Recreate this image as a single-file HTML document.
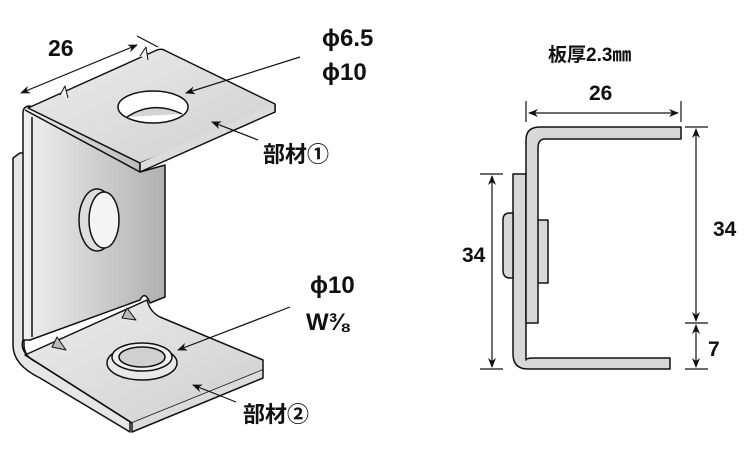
<!DOCTYPE html>
<html><head><meta charset="utf-8"><style>
html,body{margin:0;padding:0;background:#fff;}
svg{display:block;}
text{font-family:"Liberation Sans","Noto Sans CJK JP",sans-serif;font-weight:bold;fill:#111;}
.j{font-family:"Noto Sans CJK JP",sans-serif;}
</style></head><body>
<svg width="750" height="450" viewBox="0 0 750 450" xmlns="http://www.w3.org/2000/svg">
<defs>
<linearGradient id="g1" x1="0" y1="0" x2="1" y2="0"><stop offset="0" stop-color="#f0f0f0"/><stop offset="1" stop-color="#b0b0b0"/></linearGradient>
<linearGradient id="g2" x1="0" y1="0" x2="1" y2="1"><stop offset="0" stop-color="#ececec"/><stop offset="1" stop-color="#cfcfcf"/></linearGradient>
<marker id="ar" markerWidth="10" markerHeight="8" refX="9" refY="4" orient="auto" markerUnits="userSpaceOnUse"><path d="M0,0 L10,4 L0,8 L3,4 Z" fill="#111"/></marker>
<marker id="al" markerWidth="10" markerHeight="8" refX="1" refY="4" orient="auto" markerUnits="userSpaceOnUse"><path d="M10,0 L0,4 L10,8 L7,4 Z" fill="#111"/></marker>
</defs>
<g stroke="#111" stroke-width="1.5" stroke-linejoin="round">
<path d="M13,158 L20,153 L24,153 L24,345 Q24,356 36,362 L130,418 L130,432 L40,378 Q13,365 13,345 Z" fill="#e6e6e6"/>
<path d="M23,113 Q23,106 30,106 L140,163 L140,172 L165,165 L165,297 L150,303 Q145,290 140,300 L30,340 L23,340 Z" fill="url(#g1)"/>
<path d="M32,117 L32,337" fill="none"/>
<path d="M25,355 L147,300 Q150,312 160,317 L263,360 L263,370 L132,423 Z" fill="url(#g2)"/>
<path d="M132,423 L132,432 L263,378 L263,370" fill="#dcdcdc"/>
<path d="M23,340 Q20,350 30,358 L132,423" fill="none"/>
<path d="M28,108 L157,50 Q162,48 166,51 L275,104 L275,112 L140,163 Z" fill="url(#g2)"/>
<path d="M140,163 L140,172 L275,112 L275,104" fill="#dcdcdc"/>
<path d="M25,110 L140,172" fill="none"/>
<ellipse cx="153" cy="107" rx="35" ry="16" fill="#fff"/>
<path d="M127,117 Q153,100 182,114" fill="#d4d4d4"/>
<ellipse cx="97" cy="220" rx="18" ry="31" fill="#ddd"/>
<ellipse cx="104" cy="220" rx="15" ry="28" fill="#f4f4f4"/>
<ellipse cx="142" cy="363" rx="35" ry="17" fill="#e8e8e8"/>
<ellipse cx="142" cy="357" rx="30" ry="14" fill="#f0f0f0"/>
<ellipse cx="142" cy="357" rx="23" ry="10" fill="#d0d0d0"/>
<path d="M52,347 L57,337 L66,350 Z" fill="#bbb" stroke-width="1"/>
<path d="M122,318 L127,308 L136,320 Z" fill="#bbb" stroke-width="1"/>
<path d="M60,95 L65,86 L68,98" fill="#eee" stroke-width="1"/>
<path d="M140,56 L146,47 L148,60" fill="#eee" stroke-width="1"/>
</g>
<g stroke="#111" stroke-width="1.2" fill="none">
<line x1="21" y1="93" x2="137" y2="45" marker-start="url(#al)" marker-end="url(#ar)"/>
<line x1="137" y1="36" x2="158" y2="47"/>
<line x1="300" y1="57" x2="186" y2="93" marker-end="url(#ar)"/>
<line x1="258" y1="140" x2="212" y2="122" marker-end="url(#ar)"/>
<line x1="290" y1="307" x2="178" y2="350" marker-end="url(#ar)"/>
<line x1="236" y1="402" x2="193" y2="385" marker-end="url(#ar)"/>
</g>
<text x="48" y="56" font-size="23">26</text>
<text x="322" y="46" font-size="24"><tspan class="j">ϕ</tspan>6.5</text>
<text x="322" y="80" font-size="24"><tspan class="j">ϕ</tspan>10</text>
<text x="263" y="162" font-size="22" class="j">部材①</text>
<text x="310" y="293" font-size="24"><tspan class="j">ϕ</tspan>10</text>
<text x="306" y="330" font-size="24">W⅜</text>
<text x="243" y="422" font-size="22" class="j">部材②</text>
<g stroke="#111" stroke-width="1.5" stroke-linejoin="round">
<path d="M513,174 L526,174 L526,360 Q526,358 534,358 L670,358 L670,369 L528,369 Q513,369 513,354 Z" fill="#d8d8d8"/>
<path d="M503,220 Q503,213 510,213 L513,213 L513,278 L510,278 Q503,278 503,270 Z" fill="#d8d8d8"/>
<rect x="537" y="220" width="11" height="63" fill="#d8d8d8"/>
<path d="M526,323 L526,140 Q526,127 540,127 L681,127 L681,139 L545,139 Q538,139 538,148 L538,323 Z" fill="#d8d8d8"/>
</g>
<g stroke="#111" stroke-width="1.2" fill="none">
<line x1="526" y1="101" x2="526" y2="122"/><line x1="681" y1="101" x2="681" y2="122"/>
<line x1="529" y1="113" x2="678" y2="113" marker-start="url(#al)" marker-end="url(#ar)"/>
<line x1="685" y1="127" x2="708" y2="127"/><line x1="685" y1="323" x2="708" y2="323"/><line x1="685" y1="369" x2="708" y2="369"/>
<line x1="696" y1="129" x2="696" y2="321" marker-start="url(#al)" marker-end="url(#ar)"/>
<line x1="696" y1="325" x2="696" y2="367" marker-start="url(#al)" marker-end="url(#ar)"/>
<line x1="480" y1="174" x2="503" y2="174"/><line x1="480" y1="369" x2="503" y2="369"/>
<line x1="492" y1="176" x2="492" y2="367" marker-start="url(#al)" marker-end="url(#ar)"/>
</g>
<text x="548" y="61" font-size="19">板厚2.3㎜</text>
<text x="589" y="100" font-size="21">26</text>
<text x="713" y="236" font-size="21">34</text>
<text x="462" y="262" font-size="21">34</text>
<text x="708" y="356" font-size="21">7</text>
</svg>
</body></html>
